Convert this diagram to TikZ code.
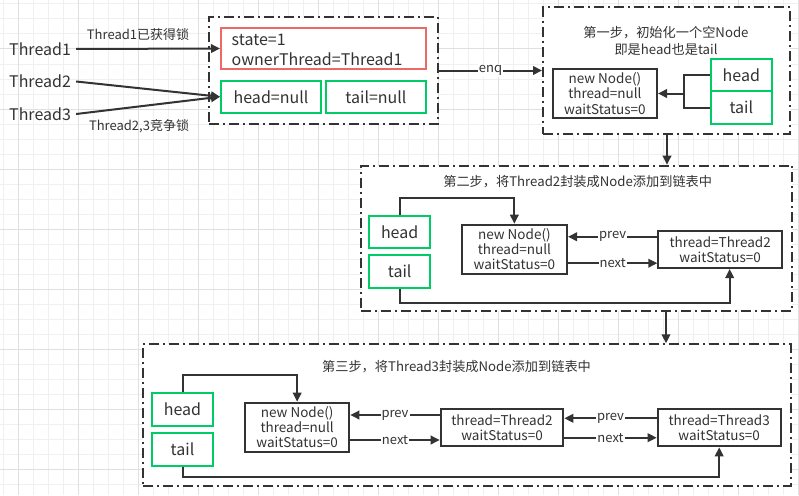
\documentclass[tikz,border=0pt]{standalone}
\usepackage{fontspec}
\setmainfont{Noto Sans CJK SC}
\usetikzlibrary{arrows.meta,calc}
\definecolor{ink}{HTML}{333333}
\definecolor{gminor}{HTML}{F0F0F0}
\definecolor{gmajor}{HTML}{E0E0E0}
\definecolor{gbox}{HTML}{00CC66}
\definecolor{rbox}{HTML}{EA6B66}
\tikzset{
  outerbox/.style={draw=ink, fill=white, line width=2pt,
    dash pattern=on 10pt off 4pt on 2pt off 4pt, inner sep=0pt},
  nodebox/.style={draw=ink, fill=white, line width=2pt, inner sep=0pt,
    align=center, text=ink, font=\fontsize{13.5}{15.2}\selectfont},
  greenbox/.style={draw=gbox, fill=white, line width=2pt, inner sep=0pt,
    text=ink, font=\fontsize{16}{19}\selectfont},
  redbox/.style={draw=rbox, fill=white, line width=2pt, inner sep=0pt,
    text=ink, font=\fontsize{16}{20}\selectfont},
  conn/.style={draw=ink, line width=2pt},
  arr/.style={conn, -{Triangle[length=9pt,width=8.5pt]}},
  elabel/.style={fill=white, inner sep=1pt, text=ink, font=\fontsize{13}{15}\selectfont},
  plain/.style={text=ink, inner sep=0pt, font=\fontsize{13.2}{17}\selectfont, align=center},
  thr/.style={text=ink, inner sep=0pt, font=\fontsize{16}{19}\selectfont},
}
\begin{document}
\begin{tikzpicture}[x=1pt,y=-1pt]
\useasboundingbox (0,0) rectangle (799,495);
\fill[white] (0,0) rectangle (799,495);
% grid
\foreach \x in {3,18,...,798} \draw[gminor, line width=1pt] (\x,0) -- (\x,495);
\foreach \y in {4,19,...,494} \draw[gminor, line width=1pt] (0,\y) -- (799,\y);
\foreach \x in {18,78,...,798} \draw[gmajor, line width=1pt] (\x,0) -- (\x,495);
\foreach \y in {49,109,...,494} \draw[gmajor, line width=1pt] (0,\y) -- (799,\y);

% ---------- top-left ----------
\node[outerbox, minimum width=229pt, minimum height=107pt] (A) at (323.5,70.5) {};
\node[redbox, minimum width=205pt, minimum height=41pt] (R) at (323.5,48.5) {};
\node[text=ink, inner sep=0pt, anchor=west, align=left, font=\fontsize{16}{20}\selectfont] (Rt) at (231.5,50) {state=1\\ownerThread=Thread1};
\node[greenbox, minimum width=100pt, minimum height=31.5pt] (hn) at (271,96.75) {head=null};
\node[greenbox, minimum width=100pt, minimum height=31.5pt] (tn) at (376,96.75) {tail=null};

\node[thr, anchor=west] (T1) at (9,49) {Thread1};
\node[thr, anchor=west] (T2) at (9,81.5) {Thread2};
\node[thr, anchor=west] (T3) at (9,114) {Thread3};
\draw[arr] ([xshift=5pt]T1.east) -- (R.west);
\draw[arr] ([xshift=5pt]T2.east) -- (hn.west);
\draw[arr] ([xshift=5pt]T3.east) -- (hn.west);
\node[elabel, fill=none] (L1) at (138,35) {Thread1已获得锁};
\node[elabel, fill=none] (L2) at (139,126) {Thread2,3竞争锁};

% ---------- step 1 ----------
\node[outerbox, minimum width=247pt, minimum height=126.7pt] (S1) at (666.5,70.65) {};
\node[plain] (S1t) at (666,40.5) {第一步，初始化一个空Node\\即是head也是tail};
\node[nodebox, minimum width=104.3pt, minimum height=49pt] (N0) at (604.85,93.5) {new Node()\\thread=null\\waitStatus=0};
\node[greenbox, minimum width=61.3pt, minimum height=32pt] (h1) at (741.35,75) {head};
\node[greenbox, minimum width=61.3pt, minimum height=33pt] (t1) at (741.35,107.5) {tail};
\coordinate (br) at (684,93.5);
\draw[conn] (h1.west) -| (br) |- (t1.west);
\draw[arr] (br) -- (N0.east);
\draw[arr] (A.east) -- (A.east -| S1.west) node[elabel, midway] (enq) {enq};

% ---------- step 2 ----------
\node[outerbox, minimum width=431.3pt, minimum height=145.3pt] (S2) at (576.35,238.35) {};
\draw[arr] ([xshift=0.5pt]S1.south) -- ([xshift=0.5pt]S1.south |- S2.north);
\node[plain] (S2t) at (577.7,181.7) {第二步，将Thread2封装成Node添加到链表中};
\node[greenbox, minimum width=61.3pt, minimum height=32pt] (h2) at (399.65,232.3) {head};
\node[greenbox, minimum width=61.3pt, minimum height=32.7pt] (t2) at (399.65,271.35) {tail};
\node[nodebox, minimum width=105.3pt, minimum height=49pt] (N1) at (514.35,249.2) {new Node()\\thread=null\\waitStatus=0};
\node[nodebox, minimum width=123.7pt, minimum height=37.3pt] (P2) at (720.15,249.35) {thread=Thread2\\waitStatus=0};
\draw[arr] (h2.north) -- ++(0,-17) -| (N1.north);
\draw[arr] (t2.south) -- ++(0,14) -| ([xshift=9.5pt]P2.south);
\draw[arr] ([yshift=12.6pt]P2.west) -- ([yshift=12.6pt]P2.west -| N1.east) node[elabel, midway] (pv1) {prev};
\draw[arr] ([yshift=-14pt]N1.east -| N1.east) -- ([yshift=-14pt]N1.east -| P2.west) node[elabel, midway] (nx1) {next};

% ---------- step 3 ----------
\node[outerbox, minimum width=647.4pt, minimum height=141.2pt] (S3) at (467,414.9) {};
\draw[arr] ([xshift=89.65pt]S2.south) -- ([xshift=89.65pt]S2.south |- S3.north);
\node[plain] (S3t) at (456.5,366.7) {第三步，将Thread3封装成Node添加到链表中};
\node[greenbox, minimum width=61pt, minimum height=32.7pt] (h3) at (182.5,409.65) {head};
\node[greenbox, minimum width=61pt, minimum height=33pt] (t3) at (182.5,449.5) {tail};
\node[nodebox, minimum width=104.3pt, minimum height=49.3pt] (N2) at (297.15,427.35) {new Node()\\thread=null\\waitStatus=0};
\node[nodebox, minimum width=122.6pt, minimum height=37.6pt] (Q2) at (502,427.5) {thread=Thread2\\waitStatus=0};
\node[nodebox, minimum width=123pt, minimum height=37.6pt] (Q3) at (719.2,427.5) {thread=Thread3\\waitStatus=0};
\draw[arr] (h3.north) -- ++(0,-17) -| (N2.north);
\draw[arr] (t3.south) -- ++(0,9.7) -| (Q3.south);
\draw[arr] ([yshift=12.5pt]Q2.west) -- ([yshift=12.5pt]Q2.west -| N2.east) node[elabel, midway] (pv2) {prev};
\draw[arr] ([yshift=-12.5pt]Q2.west -| N2.east) -- ([yshift=-12.5pt]Q2.west) node[elabel, midway] (nx2) {next};
\draw[arr] ([yshift=9.2pt]Q3.west) -- ([yshift=9.2pt]Q3.west -| Q2.east) node[elabel, midway] (pv3) {prev};
\draw[arr] ([yshift=-10.2pt]Q3.west -| Q2.east) -- ([yshift=-10.2pt]Q3.west) node[elabel, midway] (nx3) {next};
\end{tikzpicture}
\end{document}
